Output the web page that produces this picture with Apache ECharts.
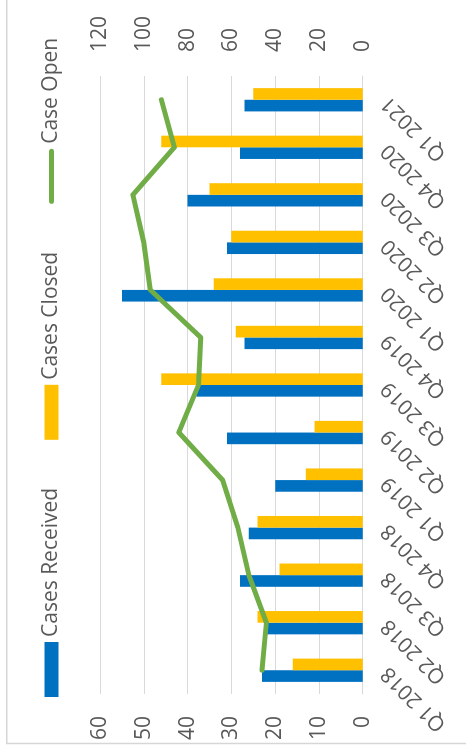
<!DOCTYPE html>
<html>
<head>
<meta charset="utf-8">
<script src="https://cdn.jsdelivr.net/npm/echarts@6/dist/echarts.min.js"></script>
<style>
  html, body { margin: 0; padding: 0; background: #ffffff; overflow: hidden; }
  body { width: 466px; height: 749px; position: relative; }
  /* The chart is laid out landscape and turned a quarter turn counter-clockwise */
  #chart {
    position: absolute; left: 0; top: 0;
    width: 749px; height: 466px;
    transform-origin: 0 0;
    transform: translate(0, 749px) rotate(-90deg);
  }
</style>
</head>
<body>
<div id="chart"></div>
<script>
const categories = ['Q1 2018', 'Q2 2018', 'Q3 2018', 'Q4 2018', 'Q1 2019', 'Q2 2019', 'Q3 2019',
                    'Q4 2019', 'Q1 2020', 'Q2 2020', 'Q3 2020', 'Q4 2020', 'Q1 2021'];
const casesReceived = [23, 22, 28, 26, 20, 31, 38, 27, 55, 31, 40, 28, 27];
const casesClosed   = [16, 24, 19, 24, 13, 11, 46, 29, 34, 30, 35, 46, 25];
const caseOpen      = [46, 44, 52, 57, 64, 84, 75, 74, 97, 100, 105, 86, 92];

const FONT = '"Open Sans", "Noto Sans", sans-serif';
const TEXT = '#595959';
const GRID = '#d9d9d9';

const chart = echarts.init(document.getElementById('chart'), null, { renderer: 'canvas' });

chart.setOption({
  animation: false,
  backgroundColor: '#ffffff',
  textStyle: { fontFamily: FONT },
  graphic: [{
    type: 'rect',
    shape: { x: 5.5, y: 6.7, width: 800, height: 500 },
    style: { fill: 'none', stroke: '#d6d6d6', lineWidth: 1.5 },
    silent: true
  }],
  legend: {
    left: 47,
    top: 36,
    itemWidth: 55,
    itemHeight: 14,
    itemGap: 48,
    textStyle: { fontFamily: FONT, fontSize: 21, color: TEXT },
    data: [
      { name: 'Cases Received', icon: 'rect' },
      { name: 'Cases Closed', icon: 'rect' },
      { name: 'Case Open', icon: 'path://M2.5,0 H52.5 A2.5,2.5 0 0 1 52.5,5 H2.5 A2.5,2.5 0 0 1 2.5,0 Z' }
    ]
  },
  grid: { left: 55, right: 76, top: 100, bottom: 103.3 },
  xAxis: {
    type: 'category',
    data: categories,
    axisTick: { show: false },
    axisLine: { lineStyle: { color: GRID, width: 1 } },
    axisLabel: {
      rotate: 45,
      margin: 22,
      fontFamily: FONT,
      fontSize: 21,
      color: TEXT,
      interval: 0
    }
  },
  yAxis: [{
    type: 'value',
    min: 0, max: 60, interval: 10,
    axisLine: { show: false },
    axisTick: { show: false },
    splitLine: { lineStyle: { color: GRID, width: 1 } },
    axisLabel: { margin: 22, fontFamily: FONT, fontSize: 21, color: TEXT }
  }, {
    type: 'value',
    min: 0, max: 120, interval: 20,
    position: 'right',
    axisLine: { show: false },
    axisTick: { show: false },
    splitLine: { show: false },
    axisLabel: { margin: 24, fontFamily: FONT, fontSize: 21, color: TEXT }
  }],
  series: [{
    name: 'Cases Received',
    type: 'bar',
    data: casesReceived,
    barGap: '0%',
    barCategoryGap: '51%',
    itemStyle: { color: '#0070C0' }
  }, {
    name: 'Cases Closed',
    type: 'bar',
    data: casesClosed,
    itemStyle: { color: '#FFC000' }
  }, {
    name: 'Case Open',
    type: 'line',
    yAxisIndex: 1,
    data: caseOpen,
    symbol: 'none',
    z: 5,
    itemStyle: { color: '#70AD47' },
    lineStyle: { color: '#70AD47', width: 5, cap: 'round', join: 'round' }
  }]
});
</script>
</body>
</html>
